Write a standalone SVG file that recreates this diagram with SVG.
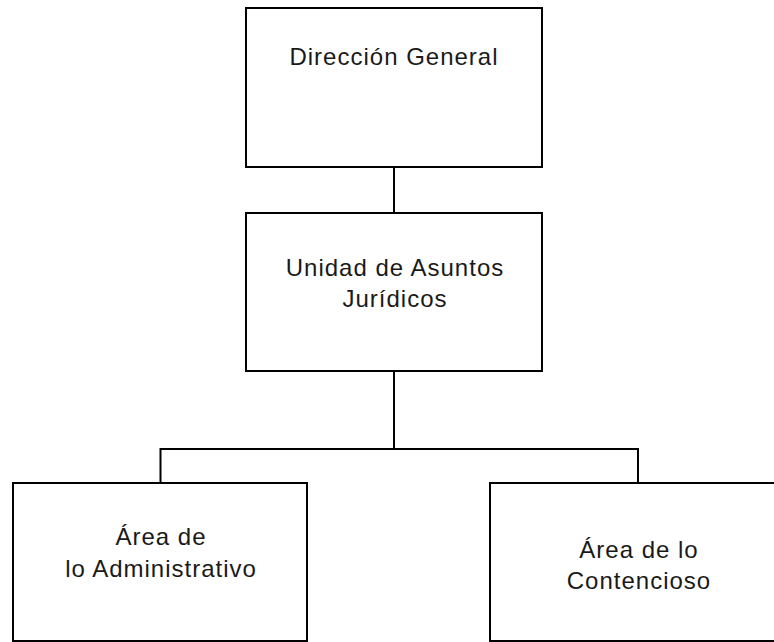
<svg xmlns="http://www.w3.org/2000/svg" width="774" height="642" viewBox="0 0 774 642">
<style>
.box{fill:#fff;stroke:#000;stroke-width:2}
.ln{fill:none;stroke:#000;stroke-width:2}
text{font-family:"Liberation Sans",Arial,sans-serif;font-size:24px;letter-spacing:1px;fill:#1a1a1a;text-anchor:middle}
</style>
<rect width="774" height="642" fill="#fff"/>
<g id="connectors">
<line class="ln" x1="394" y1="167" x2="394" y2="213"/>
<path class="ln" d="M394 371 V449 M160.5 483 V449 H638 V483"/>
</g>
<g id="direccion">
<rect class="box" x="246" y="8" width="296" height="159"/>
<text x="394" y="65">Dirección General</text>
</g>
<g id="unidad">
<rect class="box" x="246" y="213" width="296" height="158"/>
<text x="395" y="276">Unidad de Asuntos</text>
<text x="395" y="307">Jurídicos</text>
</g>
<g id="administrativo">
<rect class="box" x="13" y="483" width="294" height="158"/>
<text x="161" y="545">Área de</text>
<text x="161" y="577">lo Administrativo</text>
</g>
<g id="contencioso">
<rect class="box" x="490" y="483" width="296" height="158"/>
<text x="639" y="558">Área de lo</text>
<text x="639" y="589">Contencioso</text>
</g>
</svg>
